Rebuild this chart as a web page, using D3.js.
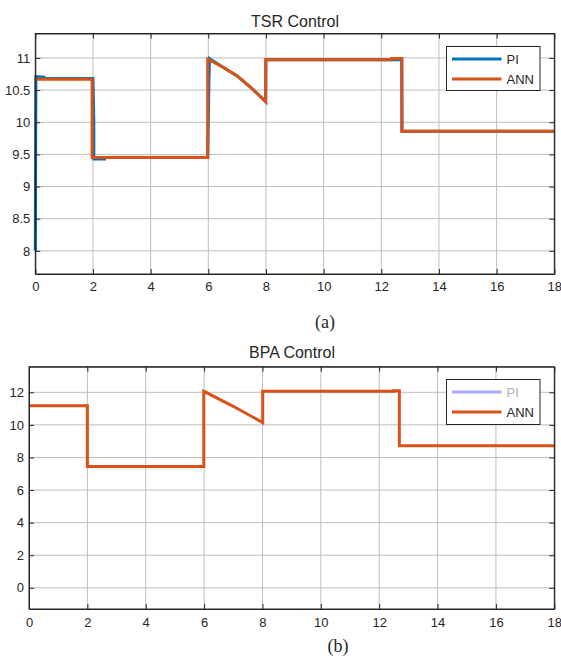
<!DOCTYPE html>
<html>
<head>
<meta charset="utf-8">
<script src="https://cdn.jsdelivr.net/npm/d3@7"></script>
<style>
  body { margin: 0; background: #fff; }
  svg { display: block; }
  text { font-family: "Liberation Sans", Arial, sans-serif; fill: #262626; }
</style>
</head>
<body>
<svg id="chart" width="561" height="660"></svg>
<script>
// ---------- DATA ----------
const xTicks = [0, 2, 4, 6, 8, 10, 12, 14, 16, 18];

// (a) TSR Control
const tsrYTicks = [8, 8.5, 9, 9.5, 10, 10.5, 11];
const tsrPITime = [0, 0.02, 0.3, 0.3, 2.0, 2.03, 2.03, 2.4, 2.4, 5.98, 6.02, 6.04, 6.5, 7, 7.5, 7.99, 8.0, 12.71, 12.72, 18];
const tsrPIValue = [8.0, 10.71, 10.70, 10.68, 10.68, 10.0, 9.43, 9.43, 9.45, 9.45, 10.58, 10.99, 10.86, 10.72, 10.53, 10.32, 10.97, 10.97, 9.86, 9.86];
const tsrANNTime = [0, 1.97, 1.97, 5.98, 5.98, 6.5, 7, 7.5, 7.99, 7.99, 12.36, 12.36, 12.71, 12.71, 18];
const tsrANNValue = [10.67, 10.67, 9.45, 9.45, 10.98, 10.86, 10.72, 10.53, 10.32, 10.97, 10.97, 10.99, 10.99, 9.86, 9.86];

// (b) BPA Control
const bpaYTicks = [0, 2, 4, 6, 8, 10, 12];
const bpaPITime = [0, 2, 2, 5.99, 5.99, 7, 8.01, 8.01, 12.69, 12.69, 18];
const bpaPIValue = [11.18, 11.18, 7.45, 7.45, 12.06, 11.14, 10.14, 12.06, 12.06, 8.72, 8.72];
const bpaANNTime = [0, 2, 2, 5.99, 5.99, 7, 8.01, 8.01, 12.48, 12.48, 12.69, 12.69, 18];
const bpaANNValue = [11.18, 11.18, 7.45, 7.45, 12.06, 11.14, 10.14, 12.06, 12.06, 12.1, 12.1, 8.72, 8.72];

const seriesNames = ["PI", "ANN"];

// ---------- DRAW ----------
const svg = d3.select("#chart");
const axisColor = "#262626";
const gridColor = "#bdbdbd";

function panel(cfg) {
  const { left, right, top, bottom, yDomain, yTicks, title, titleX, titleY, label, labelX, labelY,
          pi, ann, piColor, piWidth, legendBox, piTextColor, yLabelGap, xLabelGap } = cfg;
  const x = d3.scaleLinear().domain([0, 18]).range([left, right]);
  const y = d3.scaleLinear().domain(yDomain).range([bottom, top]);
  const g = svg.append("g");

  // grid
  g.selectAll(".gx").data(xTicks.slice(1, -1)).enter().append("line")
    .attr("x1", d => x(d)).attr("x2", d => x(d)).attr("y1", top).attr("y2", bottom)
    .attr("stroke", gridColor).attr("stroke-width", 1);
  g.selectAll(".gy").data(yTicks).enter().append("line")
    .attr("y1", d => y(d)).attr("y2", d => y(d)).attr("x1", left).attr("x2", right)
    .attr("stroke", gridColor).attr("stroke-width", 1);

  // lines
  const line = d3.line().x(d => x(d[0])).y(d => y(d[1]));
  g.append("path").datum(d3.zip(pi[0], pi[1])).attr("d", line)
    .attr("fill", "none").attr("stroke", piColor).attr("stroke-width", piWidth).attr("stroke-linejoin", "miter");
  g.append("path").datum(d3.zip(ann[0], ann[1])).attr("d", line)
    .attr("fill", "none").attr("stroke", "#D95319").attr("stroke-width", 3).attr("stroke-linejoin", "miter");

  // axes (inward ticks, box)
  const tickLen = 5;
  const axB = g.append("g").attr("transform", `translate(0,${bottom})`)
    .call(d3.axisBottom(x).tickValues(xTicks).tickSizeInner(-tickLen).tickSizeOuter(0).tickPadding(xLabelGap));
  const axT = g.append("g").attr("transform", `translate(0,${top})`)
    .call(d3.axisTop(x).tickValues(xTicks).tickSizeInner(-tickLen).tickSizeOuter(0).tickFormat(""));
  const axL = g.append("g").attr("transform", `translate(${left},0)`)
    .call(d3.axisLeft(y).tickValues(yTicks).tickSizeInner(-tickLen).tickSizeOuter(0).tickPadding(yLabelGap).tickFormat(d3.format("~g")));
  const axR = g.append("g").attr("transform", `translate(${right},0)`)
    .call(d3.axisRight(y).tickValues(yTicks).tickSizeInner(-tickLen).tickSizeOuter(0).tickFormat(""));
  [axB, axT, axL, axR].forEach(a => {
    a.selectAll("path.domain").attr("stroke", axisColor).attr("stroke-width", 1);
    a.selectAll(".tick line").attr("stroke", axisColor);
    a.selectAll("text").attr("font-size", 13).attr("fill", axisColor)
      .attr("font-family", "'Liberation Sans', Arial, sans-serif");
  });
  g.append("rect").attr("x", left).attr("y", top).attr("width", right - left).attr("height", bottom - top)
    .attr("fill", "none").attr("stroke", axisColor).attr("stroke-width", 1);

  // title
  g.append("text").attr("x", titleX).attr("y", titleY).attr("text-anchor", "middle")
    .attr("font-size", 16).text(title);
  // panel label
  g.append("text").attr("x", labelX).attr("y", labelY).attr("text-anchor", "middle")
    .attr("font-size", 18)
    .style("font-family", "'Liberation Serif', 'Times New Roman', serif").text(label);

  // legend
  const [lx0, ly0, lx1, ly1] = legendBox;
  g.append("rect").attr("x", lx0).attr("y", ly0).attr("width", lx1 - lx0).attr("height", ly1 - ly0)
    .attr("fill", "#fff").attr("stroke", axisColor).attr("stroke-width", 1);
  const rows = [
    { name: seriesNames[0], color: piColor, width: 3, tcolor: piTextColor },
    { name: seriesNames[1], color: "#D95319", width: 3, tcolor: axisColor }
  ];
  rows.forEach((r, i) => {
    const cy = ly0 + 12.5 + i * 20;
    g.append("line").attr("x1", lx0 + 5.5).attr("x2", lx0 + 55).attr("y1", cy).attr("y2", cy)
      .attr("stroke", r.color).attr("stroke-width", r.width);
    g.append("text").attr("x", lx0 + 60).attr("y", cy + 5).attr("font-size", 13)
      .style("fill", r.tcolor).text(r.name);
  });
}

panel({
  left: 35.3, right: 554.3, top: 33.5, bottom: 274,
  yDomain: [7.64, 11.38], yTicks: tsrYTicks,
  title: "TSR Control", titleX: 295, titleY: 27,
  label: "(a)", labelX: 325, labelY: 328,
  pi: [tsrPITime, tsrPIValue], ann: [tsrANNTime, tsrANNValue],
  piColor: "#0072BD", piWidth: 3, piTextColor: "#262626",
  legendBox: [446.5, 46.5, 540, 90.5], yLabelGap: 5, xLabelGap: 8
});

panel({
  left: 29, right: 554.3, top: 366.7, bottom: 609,
  yDomain: [-1.3, 13.57], yTicks: bpaYTicks,
  title: "BPA Control", titleX: 292, titleY: 358,
  label: "(b)", labelX: 338, labelY: 652,
  pi: [bpaPITime, bpaPIValue], ann: [bpaANNTime, bpaANNValue],
  piColor: "#A9A9FF", piWidth: 2, piTextColor: "#b0b0b0",
  legendBox: [446.5, 379.5, 540, 424.5], yLabelGap: 5, xLabelGap: 9
});
</script>
</body>
</html>
